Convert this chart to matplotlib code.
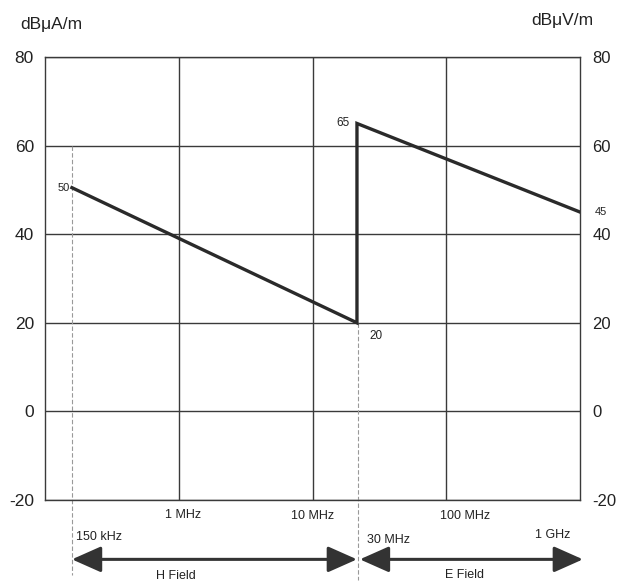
import matplotlib
matplotlib.use("Agg")
import matplotlib.pyplot as plt
from matplotlib.patches import FancyArrowPatch

plt.rcParams['font.family'] = ['Liberation Sans', 'DejaVu Sans']
plt.rcParams['axes.unicode_minus'] = False

freq = [0.159, 21.5, 21.5, 1000]
level = [50.5, 20, 65, 45]
point_labels = ["50", "20", "65", "45"]
yticks = [-20, 0, 20, 40, 60, 80]
xgrid = [1, 10, 100]
freq_labels = ["150 kHz", "1 MHz", "10 MHz", "30 MHz", "100 MHz", "1 GHz"]

fig = plt.figure(figsize=(6.19, 5.82), dpi=100)
ax = fig.add_axes([45/619, 1-500/582, 535/619, 443/582])
ax.set_xscale('log')
ax.set_xlim(0.1, 1000)
ax.set_ylim(-20, 80)
col = '#3a3a3a'
for y in yticks:
    ax.axhline(y, color=col, lw=1.0, zorder=1)
for x in xgrid:
    ax.axvline(x, color=col, lw=1.0, zorder=1)
for s in ax.spines.values():
    s.set_color(col)
    s.set_linewidth(1.0)
ax.set_xticks([])
ax.xaxis.set_minor_locator(matplotlib.ticker.NullLocator())
ax.set_yticks(yticks)
ax.tick_params(axis='y', length=0, labelsize=12.5, pad=8, colors='#222222')

ax2 = ax.twinx()
ax2.set_ylim(-20, 80)
ax2.set_yticks(yticks)
ax2.tick_params(axis='y', length=0, labelsize=12, pad=9, colors='#222222')
for s in ax2.spines.values():
    s.set_visible(False)

# Dashed guide lines
ax.plot([freq[0], freq[0]], [60, -37], color='#999999', lw=0.8, ls=(0, (4, 2)), clip_on=False, zorder=2)
ax.plot([freq[1] * 1.02, freq[1] * 1.02], [20, -38], color='#999999', lw=0.8, ls=(0, (4, 2)), clip_on=False, zorder=2)

# Limit line
ax.plot(freq, level, color='#2a2a2a', lw=2.4, zorder=3, solid_joinstyle='miter')

# Point labels
ax.text(freq[0] * 0.97, level[0], point_labels[0], ha='right', va='center', fontsize=8, color='#222222')
ax.text(freq[1] * 1.25, level[1] - 3, point_labels[1], ha='left', va='center', fontsize=8.5, color='#222222')
ax.text(freq[2] * 0.88, level[2], point_labels[2], ha='right', va='center', fontsize=8.5, color='#222222')
ax.text(1000 * 1.28, level[3], point_labels[3], ha='left', va='center', fontsize=8, color='#222222', clip_on=False)

# Unit labels
fig.text(20/619, 1-25/582, "dBμA/m", ha='left', va='center', fontsize=12.5, color='#222222')
fig.text(593/619, 1-21/582, "dBμV/m", ha='right', va='center', fontsize=12.5, color='#222222')

# Frequency labels below axis
fs = 9
ax.text(0.159 * 1.08, -28.3, freq_labels[0], ha='left', va='center', fontsize=fs, color='#222222', clip_on=False)
ax.text(1.07, -23.3, freq_labels[1], ha='center', va='center', fontsize=fs, color='#222222', clip_on=False)
ax.text(10.0, -23.7, freq_labels[2], ha='center', va='center', fontsize=fs, color='#222222', clip_on=False)
ax.text(25.5, -29.0, freq_labels[3], ha='left', va='center', fontsize=fs, color='#222222', clip_on=False)
ax.text(138, -23.7, freq_labels[4], ha='center', va='center', fontsize=fs, color='#222222', clip_on=False)
ax.text(630, -28.0, freq_labels[5], ha='center', va='center', fontsize=fs, color='#222222', clip_on=False)

# Field arrows
arrow_y = -33.4
for x0, x1 in [(0.159, 21.5), (22.6, 1052)]:
    arr = FancyArrowPatch((x0, arrow_y), (x1, arrow_y),
                          arrowstyle='<|-|>,head_length=18,head_width=8',
                          mutation_scale=1, color='#333333', lw=2.2,
                          shrinkA=0, shrinkB=0, clip_on=False, zorder=4)
    ax.add_patch(arr)
ax.text(0.95, -37.2, "H Field", ha='center', va='center', fontsize=9, color='#222222', clip_on=False)
ax.text(138, -37.0, "E Field", ha='center', va='center', fontsize=9, color='#222222', clip_on=False)

fig.savefig("out.png", dpi=100, facecolor='white')
